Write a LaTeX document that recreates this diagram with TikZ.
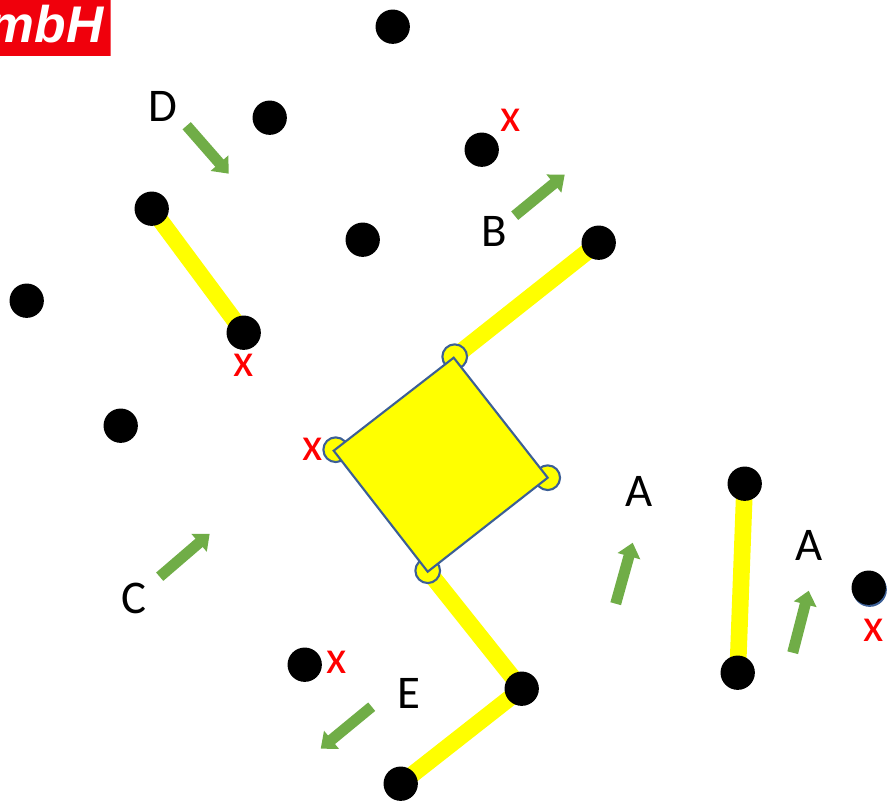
\documentclass[tikz,border=0pt]{standalone}
\usepackage{fontspec}
\setmainfont{Carlito}
\newfontfamily\logofont{Liberation Sans}
\usetikzlibrary{arrows.meta,backgrounds}
\definecolor{armgreen}{RGB}{112,173,71}
\definecolor{edgeblue}{RGB}{60,95,150}
\definecolor{logored}{RGB}{240,0,12}
\definecolor{plateyellow}{RGB}{255,255,0}
\tikzset{
pin/.style={circle,fill=black,minimum size=1.03cm,inner sep=0pt},
lug/.style={circle,draw=edgeblue,fill=plateyellow,line width=1.8pt,minimum size=0.74cm,inner sep=0pt},
arm/.style={plateyellow,line width=0.5cm},
move/.style={armgreen,line width=0.33cm,-{Triangle[length=0.42cm,width=0.68cm]}},
letter/.style={font=\fontsize{40}{40}\selectfont,text=black,inner sep=0pt},
cross/.style={font=\fontsize{40}{40}\selectfont,text=red,inner sep=0pt}
}
\begin{document}
\begin{tikzpicture}[x=0.03cm,y=-0.03cm]

\useasboundingbox (-0.7,-0.7) rectangle (895.3,807.3);

%%%%%%%%%%%%%%%%%%%%%%%%%%%%%%%%%%%%%%%%%%%%%%%%%%%%%%
% LOGO
%%%%%%%%%%%%%%%%%%%%%%%%%%%%%%%%%%%%%%%%%%%%%%%%%%%%%%

\begin{scope}
\clip (-0.7,-0.7) rectangle (110,55);
\fill[logored] (-0.7,-0.7) rectangle (110,55);
\node[
text=white,
font=\fontsize{44}{44}\selectfont\logofont\bfseries\itshape,
inner sep=0pt,
anchor=base east
] (logo) at (103,42) {mbH};
\end{scope}

%%%%%%%%%%%%%%%%%%%%%%%%%%%%%%%%%%%%%%%%%%%%%%%%%%%%%%
% PINS
%%%%%%%%%%%%%%%%%%%%%%%%%%%%%%%%%%%%%%%%%%%%%%%%%%%%%%

\node[pin] (pinA) at (392,26) {};
\node[pin] (pinB) at (269,117) {};
\node[pin] (pinC) at (481,149) {};
\node[pin] (pinD) at (151,208) {};
\node[pin] (pinE) at (362,239) {};
\node[pin] (pinF) at (598,242) {};
\node[pin] (pinG) at (26,300) {};
\node[pin] (pinH) at (243,332) {};
\node[pin] (pinI) at (120,425) {};
\node[pin] (pinJ) at (744,483) {};
\node[pin] (pinK) at (868,587) {};
\node[pin] (pinL) at (737,672) {};
\node[pin] (pinM) at (304,664) {};
\node[pin] (pinN) at (521,688) {};
\node[pin] (pinO) at (400,783) {};

%%%%%%%%%%%%%%%%%%%%%%%%%%%%%%%%%%%%%%%%%%%%%%%%%%%%%%
% PLATE
%%%%%%%%%%%%%%%%%%%%%%%%%%%%%%%%%%%%%%%%%%%%%%%%%%%%%%

\node[lug] (lugT) at (454,356) {};
\node[lug] (lugL) at (335,449) {};
\node[lug] (lugR) at (547,477) {};
\node[lug] (lugB) at (427,570) {};

\draw[edgeblue,fill=plateyellow,line width=1.8pt]
(453,357) -- (547,477) -- (427,571) -- (333,450) -- cycle;

%%%%%%%%%%%%%%%%%%%%%%%%%%%%%%%%%%%%%%%%%%%%%%%%%%%%%%
% ARMS
%%%%%%%%%%%%%%%%%%%%%%%%%%%%%%%%%%%%%%%%%%%%%%%%%%%%%%

\begin{pgfonlayer}{background}
\draw[arm] (pinD.center) -- (pinH.center);
\draw[arm] (lugT.center) -- (pinF.center);
\draw[arm] (lugB.center) -- (pinN.center);
\draw[arm] (pinN.center) -- (pinO.center);
\draw[arm] (pinJ.center) -- (pinL.center);
\node[pin,fill=edgeblue] (pinKedge) at (869,589) {};
\end{pgfonlayer}

%%%%%%%%%%%%%%%%%%%%%%%%%%%%%%%%%%%%%%%%%%%%%%%%%%%%%%
% MOVES
%%%%%%%%%%%%%%%%%%%%%%%%%%%%%%%%%%%%%%%%%%%%%%%%%%%%%%

\coordinate (moveD) at (186,125);
\coordinate (moveDend) at (228,173);
\coordinate (moveB) at (514,215);
\coordinate (moveBend) at (564,174);
\coordinate (moveC) at (159,576);
\coordinate (moveCend) at (209,533);
\coordinate (moveE) at (371,706);
\coordinate (moveEend) at (320,748);
\coordinate (moveA) at (615,603);
\coordinate (moveAend) at (632,542);
\coordinate (moveAA) at (792,652);
\coordinate (moveAAend) at (808,590);

\draw[move] (moveD) -- (moveDend);
\draw[move] (moveB) -- (moveBend);
\draw[move] (moveC) -- (moveCend);
\draw[move] (moveE) -- (moveEend);
\draw[move] (moveA) -- (moveAend);
\draw[move] (moveAA) -- (moveAAend);

%%%%%%%%%%%%%%%%%%%%%%%%%%%%%%%%%%%%%%%%%%%%%%%%%%%%%%
% LABELS
%%%%%%%%%%%%%%%%%%%%%%%%%%%%%%%%%%%%%%%%%%%%%%%%%%%%%%

\node[letter] (labD) at (162,106) {D};
\node[letter] (labB) at (494,231) {B};
\node[letter] (labC) at (133,598) {C};
\node[letter] (labE) at (408,693) {E};
\node[letter] (labA) at (638,491) {A};
\node[letter] (labAA) at (808,545) {A};

\node[cross] (crossC) at (510,120) {x};
\node[cross] (crossH) at (243,365) {x};
\node[cross] (crossL) at (312,449) {x};
\node[cross] (crossM) at (336,662) {x};
\node[cross] (crossK) at (873,630) {x};

\end{tikzpicture}
\end{document}
